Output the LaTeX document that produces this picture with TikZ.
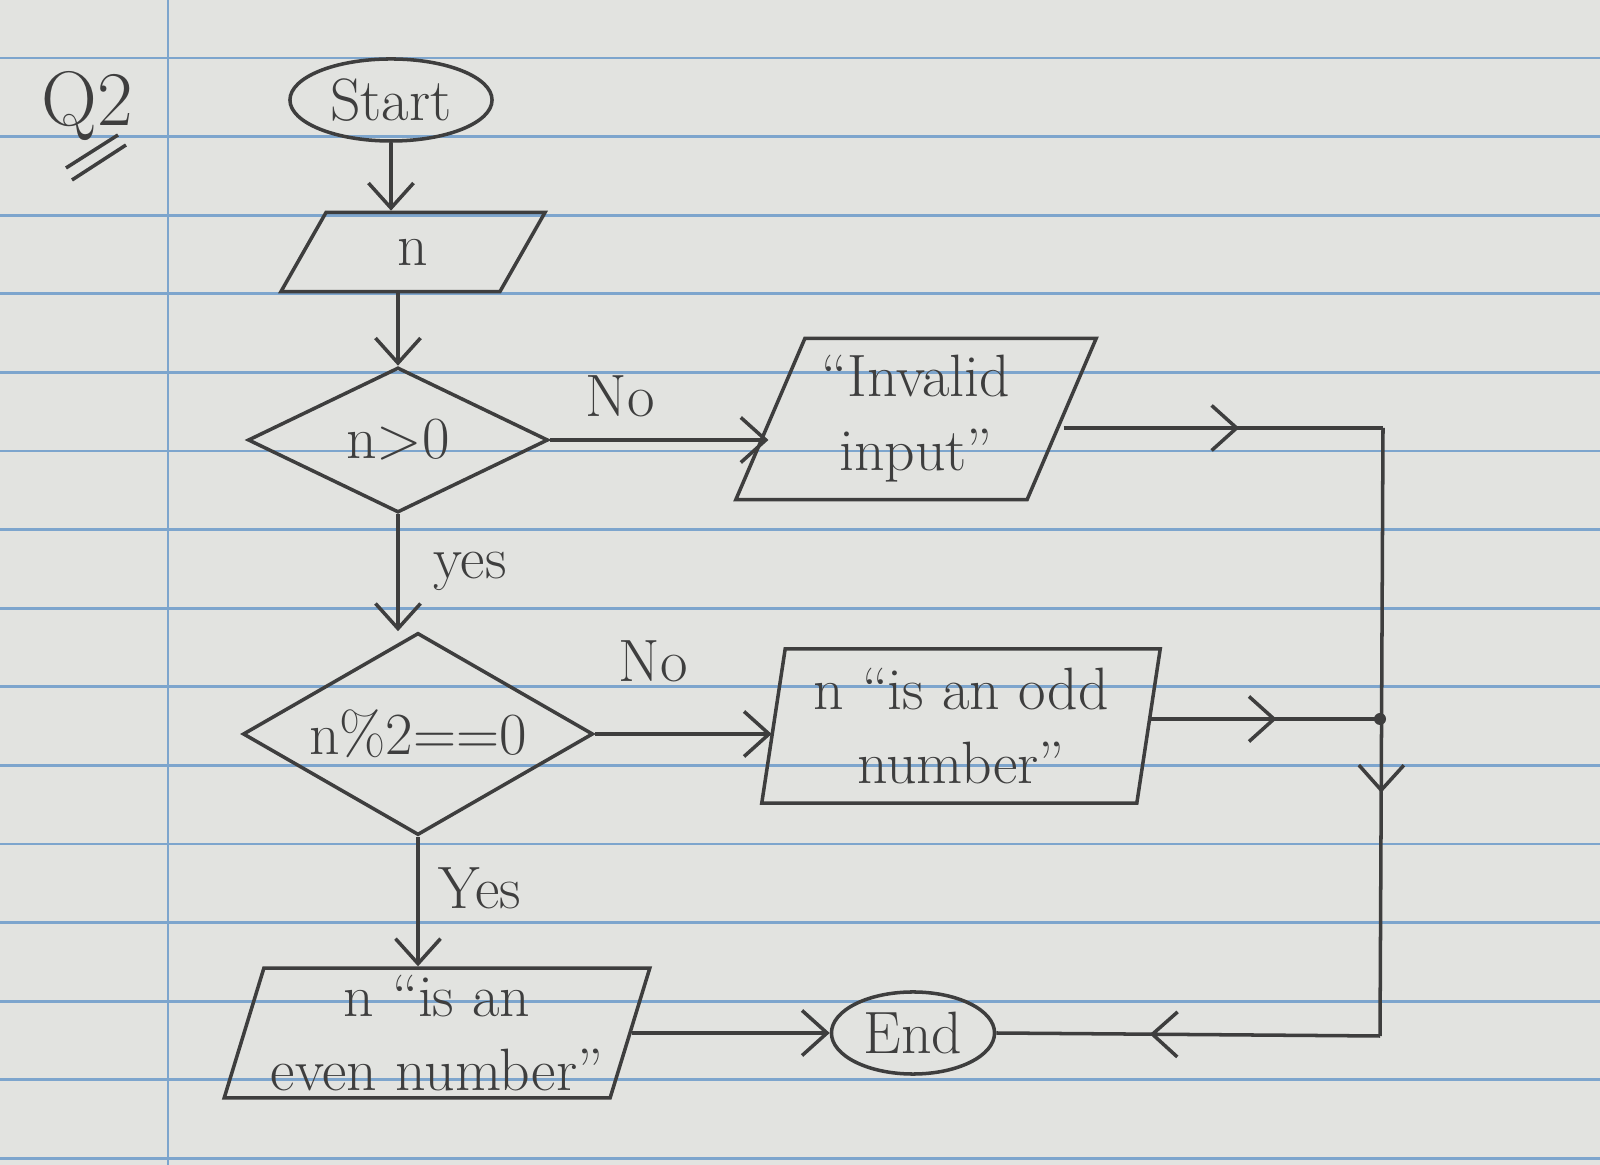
\documentclass[tikz,border=0pt]{standalone}
\usepackage{tikz}
\usepackage{xcolor}
\usetikzlibrary{shapes.geometric,arrows.meta,decorations.markings}
\definecolor{notepaper}{RGB}{226,227,224}
\definecolor{noteline}{RGB}{125,165,205}
\definecolor{pencil}{RGB}{62,62,62}
\newcommand{\handtext}{\fontsize{17}{21}\selectfont}
\newcommand{\barb}{Straight Barb[length=2.5mm,width=4.5mm]}

\begin{document}
\begin{tikzpicture}[x=0.01cm,y=-0.01cm,
        every node/.style={font=\handtext, text=pencil},
        flow/.style={draw=pencil, line width=1pt},
        terminal/.style={flow, ellipse, minimum width=2.02cm, minimum height=0.82cm, inner sep=0pt},
        decision/.style={flow, diamond, aspect=2, inner sep=0pt, align=center},
        io/.style={flow, trapezium, trapezium stretches=true, inner sep=2pt, align=center},
        link/.style={flow, -{\barb}},
        midarrow/.style={flow, postaction={decorate},
            decoration={markings, mark=at position #1 with {\arrow{\barb}}}}]
    \useasboundingbox (0,0) rectangle (1600,1165);
    \fill[notepaper] (0,0) rectangle (1600,1165);
    \foreach \k in {0,...,14}
        \draw[noteline, line width=0.8pt] (0,{58+78.6*\k}) -- (1600,{58+78.6*\k});
    \draw[noteline, line width=0.8pt] (168,0) -- (168,1165);

    \node[font=\fontsize{22}{24}\selectfont] (qlabel) at (87,106) {Q2};
    \draw[flow] (66,168) -- (118,135);
    \draw[flow] (72,180) -- (126,145);

    \node[terminal] (start) at (391,100) {Start};
    \node[io, trapezium left angle=74, trapezium right angle=106,
        minimum width=2.64cm, minimum height=0.79cm] (input) at (413,252) {n};
    \node[decision, minimum width=3cm, minimum height=1.45cm] (pos) at (398,440) {n>0};
    \node[io, trapezium left angle=66, trapezium right angle=114,
        minimum width=3.61cm, minimum height=1.61cm] (invalid) at (916,419) {“Invalid\\input”};
    \node[decision, minimum width=3.5cm, minimum height=2.02cm] (parity) at (418,734) {n\%2==0};
    \node[io, trapezium left angle=81, trapezium right angle=99,
        minimum width=4cm, minimum height=1.54cm] (odd) at (961,726) {n “is an odd\\number”};
    \node[io, trapezium left angle=73, trapezium right angle=107,
        minimum width=3.92cm, minimum height=1.28cm] (evenout) at (437,1033) {n “is an\\even number”};
    \node[terminal, minimum width=1.63cm] (end) at (913,1033) {End};

    \coordinate (corner) at (1383,428);
    \coordinate (join) at (1380,719);
    \coordinate (bottom) at (1380,1036);

    \draw[link] (start) -- (start |- input.north);
    \draw[link] (pos.north |- input.south) -- (pos.north);
    \draw[link] (pos.east) -- (pos.east -| invalid.west);
    \node (no1) at (620,396) {No};
    \draw[link] (pos.south) -- (pos.south |- parity.north);
    \node (yes1) at (470,571) {yes};
    \draw[link] (parity.east) -- (parity.east -| odd.west);
    \node (no2) at (653,661) {No};
    \draw[link] (parity.south) -- (parity.south |- evenout.north);
    \node (yes2) at (480,888) {Yes};
    \draw[link] (evenout.east) -- (end.west);

    \draw[midarrow=0.55] (invalid.east |- corner) -- (corner);
    \draw[midarrow=0.6] (corner) -- (bottom);
    \draw[midarrow=0.55] (odd.east |- join) -- (join);
    \draw[midarrow=0.6] (bottom) -- (end.east);
    \fill[pencil] (join) circle (6);
\end{tikzpicture}
\end{document}
